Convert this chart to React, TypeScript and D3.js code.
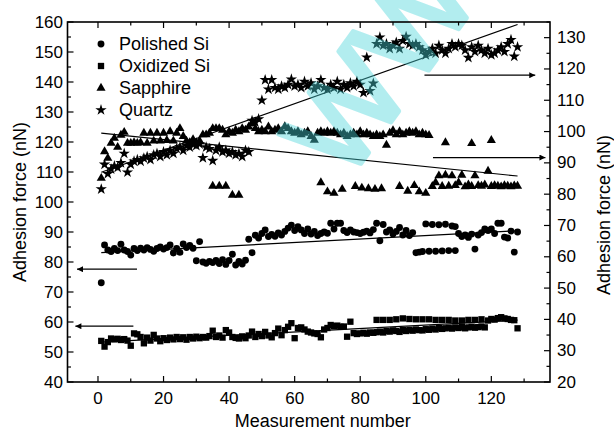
import React from "react";
import * as d3 from "d3";

// ---- data (measurement number 1..128) ----
const polishedSi = [
  73.1, 85.7, 84, 83.5, 84.5, 83.8, 85.9, 84, 83.5, 82.3, 84.5, 83.8, 84.6, 84, 84.8, 84.2, 83.6, 84.5, 85, 84.3,
  84.8, 85.7, 83, 84.5, 83.2, 86, 84.8, 85.5, 84.6, 80.4, 86.8, 80, 79.6, 80.2, 79.8, 80.5, 79.5, 80.8, 79.2, 80.5,
  82.6, 79, 80.2, 79.3, 80.6, 87.6, 83.1, 88.9, 88, 89.5, 90.7, 88.5, 89.2, 88.6, 89.7, 89, 90.2, 91.3, 92.3, 90.5,
  91.8, 90.7, 89.5, 91, 89.3, 90.2, 88.8, 89.5, 90, 89.6, 92.9, 91, 92.9, 92.9, 90.5, 89.8, 90.7, 90, 89.8, 89.5,
  89.9, 90.3, 89.7, 90.8, 92.9, 87.1, 92.5, 90, 90.7, 89.3, 90.2, 91.5, 89, 90.5, 88.8, 89.8, 83.1, 83.3, 83.5, 92.7,
  83.6, 92.5, 83.6, 92.4, 83.7, 92.6, 83.8, 92, 91.8, 89.5, 88.5, 89, 88.2, 89.3, 84.3, 89, 89.8, 91, 90.5, 91,
  89.5, 92.9, 92.9, 88.3, 88, 90.3, 83.3, 90,
];
const polishedSiExtraN = [109];
const polishedSiExtraV = [83.8];

const oxidizedSi = [
  53.7, 51.8, 53.3, 54.5, 54.2, 54.4, 54, 54.3, 53.8, 52.1, 56.2, 55.9, 55, 52.9, 54.8, 53.8, 55.7, 54.5, 53.6, 54.6,
  54, 54.8, 54.2, 55, 54.3, 54.9, 54.1, 55, 54.5, 55.1, 54.6, 55, 54.8, 55.3, 57.1, 55, 55.5, 54.8, 57.3, 56.5,
  55, 54.7, 54.5, 55.2, 54.6, 55.5, 56.8, 55, 56, 55.3, 56.7, 55.5, 54.9, 56.3, 57.8, 55.6, 57.3, 58.4, 59.6, 54.6,
  58, 58.2, 57.5, 56.8, 56.5, 56.2, 56, 54.9, 57.5, 58, 59, 58.6, 58.8, 58.4, 58.5, 55.1, 60.1, 56.3, 56, 56.2,
  56.4, 56.1, 56.5, 56.4, 56.6, 56.8, 56.5, 57, 56.8, 57.2, 57, 56.7, 57.3, 57, 57.4, 57.1, 57.5, 57.3, 57.2, 57.6,
  57.4, 57.8, 57.5, 58, 57.7, 57.9, 58.1, 57.8, 58.2, 58, 58.3, 57.9, 58.2, 58.4, 58.1, 58.3, 58.5, 58.2, 60.5, 61,
  60.8, 61.3, 61.6, 61.2, 61, 60.7, 60.6, 57.9,
];
const oxidizedSiExtraN = [85, 87, 89, 91, 93, 95, 97, 99, 101, 103, 105, 107, 109, 111, 113, 115, 117];
const oxidizedSiExtraV = [60.7, 60.7, 60.7, 60.9, 61.2, 61, 60.9, 60.9, 60.9, 60.7, 60.7, 60.7, 60.5, 60.5, 60.7, 60.7, 60.9];

const sapphire = [
  85.1, 93.6, 91.5, 96.3, 97.9, 95, 98.9, 99.8, 96.3, 96.3, 96.5, 96.3, 96.5, 99.5, 96.3, 99.5, 97, 99.5, 97, 99.5,
  97.2, 100, 97, 99.5, 101, 98.5, 97, 96.5, 97.5, 96.5, 97, 99, 99, 99.5, 101, 101, 101, 100.5, 99, 100,
  99.5, 100.5, 100, 101, 100.5, 101.5, 102.6, 101, 100, 100.5, 100, 101.5, 100, 100.5, 101, 100, 101.6, 101, 100, 99.5,
  100, 99, 99.5, 100, 98.5, 97.3, 99.5, 100, 99.5, 100, 99.5, 100, 99.5, 99, 99.5, 98.5, 99, 99.5, 99, 100,
  99, 99.5, 99, 98.5, 99, 98.5, 99, 95.7, 99.5, 100.3, 99, 100, 99, 99.5, 100, 99.5, 100, 99, 99.5, 99,
  98.8, 82.5, 83.7, 85.9, 82.5, 86.1, 82.6, 85.9, 82.8, 83.7, 86.1, 82.4, 83, 82.5, 85.9, 82.8, 82.6, 83, 87.4, 82.5,
  82.8, 82.6, 82.4, 82.8, 82.6, 82.4, 82.7, 82.6,
];
const sapphireExtraN = [35, 37, 39, 41, 43, 68, 70, 72, 74.5, 78.5, 80.5, 82.5, 84.5, 86.5, 92, 94.5, 96.5, 98, 100, 106, 114, 120];
const sapphireExtraV = [82.6, 82.6, 82.6, 79.7, 79.7, 83.7, 80.8, 80.3, 81.6, 82.5, 82, 81.8, 81.6, 81.8, 82.5, 81, 82.8, 80.8, 80.3, 96.5, 96.2, 97.2];

const quartz = [
  81.6, 89.5, 86.5, 88, 89, 88.5, 90, 93, 87, 89.5, 90.5, 91, 90.5, 91.5, 92, 91, 92.5, 93, 92, 93.5,
  92.5, 94, 93, 94.5, 95, 94, 95.5, 95, 96, 95.5, 96, 91.6, 95, 94.5, 90.7, 94, 95, 93.5, 94, 93,
  93.5, 92.5, 93, 92, 94, 93.5, 103.5, 103, 104, 110, 116.5, 113.5, 116.5, 114, 113.5, 114.5, 114, 115, 116.7, 114.5,
  115, 114, 116, 114.5, 115.5, 113.5, 114.5, 116.5, 114, 113.5, 115, 114, 116, 113.5, 115, 114, 115.5, 114.5, 116, 115,
  112.4, 123.7, 113, 115.4, 128, 130.1, 127.5, 128, 126.5, 127.5, 128.5, 126.5, 129, 130.3, 128, 127.5, 128, 127, 126, 124.5,
  125.5, 126.5, 125, 127.5, 126, 125, 126.5, 128, 127, 128, 127.5, 126, 123.6, 127, 125.5, 127.5, 126, 125, 126.5, 124.5,
  125, 126, 127, 125.5, 128, 129.3, 124, 127,
];

// linear fits: value at n = 1 and n = 128
const fitN = [1, 128];
const polishedSiFit = [83.1, 90.4];
const oxidizedSiFit = [53.3, 60.6];
const sapphireFit = [99.5, 85.8];
const quartzFit = [87, 134.2];

// axis-pointing arrows: [value, fromN, toN]
const leftArrows = [
  [77.6, 11.9, -6.4],
  [58.6, 10.8, -6.9],
];
const rightArrows = [
  [118, 99.6, 133.4],
  [91.7, 102.2, 136.5],
];

const xTicks = [0, 20, 40, 60, 80, 100, 120];
const xMinor = [10, 30, 50, 70, 90, 110, 130];
const yLeftTicks = [40, 50, 60, 70, 80, 90, 100, 110, 120, 130, 140, 150, 160];
const yRightTicks = [20, 30, 40, 50, 60, 70, 80, 90, 100, 110, 120, 130];

const legendLabels = ["Polished Si", "Oxidized Si", "Sapphire", "Quartz"];
const watermarkText = "WWW";

const W = 614;
const H = 431;
const L = 67.5, R = 550, T = 22, B = 382;
const FONT = "Liberation Sans, Arial, Helvetica, sans-serif";

export default function App() {
  const x = d3.scaleLinear().domain([-9.3, 137.9]).range([L, R]);
  const yL = d3.scaleLinear().domain([40, 160]).range([B, T]);
  const yR = d3.scaleLinear().domain([20, 135]).range([B, T]);

  const circle = d3.symbol().type(d3.symbolCircle).size(37)() as string;
  const square = d3.symbol().type(d3.symbolSquare).size(40)() as string;
  const tri = d3.symbol().type(d3.symbolTriangle).size(36)() as string;
  const star = d3.symbol().type(d3.symbolStar).size(40)() as string;

  const pts = (vals: number[], extraN: number[], extraV: number[]) => {
    const a = vals.map((v, i) => [i + 1, v]);
    const b = extraN.map((n, i) => [n, extraV[i]]);
    return a.concat(b);
  };

  const series = [
    { p: pts(polishedSi, polishedSiExtraN, polishedSiExtraV), y: yL, sym: circle },
    { p: pts(oxidizedSi, oxidizedSiExtraN, oxidizedSiExtraV), y: yL, sym: square },
    { p: pts(sapphire, sapphireExtraN, sapphireExtraV), y: yR, sym: tri },
    { p: pts(quartz, [], []), y: yR, sym: star },
  ];

  const fits = [
    { v: polishedSiFit, y: yL },
    { v: oxidizedSiFit, y: yL },
    { v: sapphireFit, y: yR },
    { v: quartzFit, y: yR },
  ];

  const yLeftMinor = d3.range(45, 160, 10);
  const yRightMinor = d3.range(25, 136, 10);

  const legendSyms = [circle, square, tri, star];

  return (
    <svg
      width={W}
      height={H}
      style={{ position: "absolute", left: 0, top: 0, background: "#fff" }}
      fontFamily={FONT}
    >
      <defs>
        <marker id="ah" viewBox="0 0 10 10" refX="10" refY="5" markerWidth="9" markerHeight="6" markerUnits="userSpaceOnUse" orient="auto">
          <path d="M0,0 L10,5 L0,10 Z" fill="#000" />
        </marker>
      </defs>

      {/* series */}
      {series.map((s, si) => (
        <g key={si}>
          {s.p.map(([n, v], i) => (
            <path key={i} d={s.sym} transform={`translate(${x(n)},${s.y(v)})`} fill="#000" />
          ))}
        </g>
      ))}

      {/* fits */}
      {fits.map((f, i) => (
        <line key={i} x1={x(fitN[0])} y1={f.y(f.v[0])} x2={x(fitN[1])} y2={f.y(f.v[1])} stroke="#000" strokeWidth={1.2} />
      ))}

      {/* arrows */}
      {leftArrows.map(([v, a, b], i) => (
        <line key={"la" + i} x1={x(a)} y1={yL(v)} x2={x(b)} y2={yL(v)} stroke="#000" strokeWidth={1.2} markerEnd="url(#ah)" />
      ))}
      {rightArrows.map(([v, a, b], i) => (
        <line key={"ra" + i} x1={x(a)} y1={yR(v)} x2={x(b)} y2={yR(v)} stroke="#000" strokeWidth={1.2} markerEnd="url(#ah)" />
      ))}

      {/* watermark */}
      <g opacity={0.42}>
        <text
          x={0}
          y={0}
          transform="translate(346,184) rotate(-54)"
          textAnchor="start"
          fontSize={122}
          fontFamily={FONT}
          fill="rgb(74,214,219)"
          stroke="rgb(74,214,219)"
          strokeWidth={4.5}
          strokeLinejoin="round"
        >
          {watermarkText}
        </text>
      </g>

      {/* frame */}
      <rect x={L} y={T} width={R - L} height={B - T} fill="none" stroke="#000" strokeWidth={1.6} />

      {/* x ticks */}
      {xTicks.map((t) => (
        <g key={"xt" + t}>
          <line x1={x(t)} x2={x(t)} y1={B} y2={B - 6} stroke="#000" strokeWidth={1.2} />
          <line x1={x(t)} x2={x(t)} y1={T} y2={T + 6} stroke="#000" strokeWidth={1.2} />
          <text x={x(t)} y={398} textAnchor="middle" dominantBaseline="central" fontSize={17}>
            {t}
          </text>
        </g>
      ))}
      {xMinor.map((t) => (
        <g key={"xm" + t}>
          <line x1={x(t)} x2={x(t)} y1={B} y2={B - 3.5} stroke="#000" strokeWidth={1.2} />
          <line x1={x(t)} x2={x(t)} y1={T} y2={T + 3.5} stroke="#000" strokeWidth={1.2} />
        </g>
      ))}

      {/* left y */}
      {yLeftTicks.map((t) => (
        <g key={"yl" + t}>
          <line x1={L} x2={L + 6} y1={yL(t)} y2={yL(t)} stroke="#000" strokeWidth={1.2} />
          <text x={63} y={yL(t)} textAnchor="end" dominantBaseline="central" fontSize={17}>
            {t}
          </text>
        </g>
      ))}
      {yLeftMinor.map((t) => (
        <line key={"ylm" + t} x1={L} x2={L + 3.5} y1={yL(t)} y2={yL(t)} stroke="#000" strokeWidth={1.2} />
      ))}

      {/* right y */}
      {yRightTicks.map((t) => (
        <g key={"yr" + t}>
          <line x1={R} x2={R - 6} y1={yR(t)} y2={yR(t)} stroke="#000" strokeWidth={1.2} />
          <text x={557} y={yR(t)} textAnchor="start" dominantBaseline="central" fontSize={17}>
            {t}
          </text>
        </g>
      ))}
      {yRightMinor.map((t) => (
        <line key={"yrm" + t} x1={R} x2={R - 3.5} y1={yR(t)} y2={yR(t)} stroke="#000" strokeWidth={1.2} />
      ))}

      {/* axis titles */}
      <text x={(L + R) / 2 + 14} y={421} textAnchor="middle" dominantBaseline="central" fontSize={18}>
        Measurement number
      </text>
      <text transform={`translate(20,${(T + B) / 2}) rotate(-90)`} textAnchor="middle" dominantBaseline="central" fontSize={18}>
        Adhesion force (nN)
      </text>
      <text transform={`translate(604,215) rotate(-90)`} textAnchor="middle" dominantBaseline="central" fontSize={18}>
        Adhesion force (nN)
      </text>

      {/* legend */}
      {legendLabels.map((lab, i) => (
        <g key={lab} transform={`translate(0,${44 + i * 22})`}>
          <path d={legendSyms[i]} transform="translate(101,0)" fill="#000" />
          <text x={119} y={0} dominantBaseline="central" fontSize={18}>
            {lab}
          </text>
        </g>
      ))}
    </svg>
  );
}
